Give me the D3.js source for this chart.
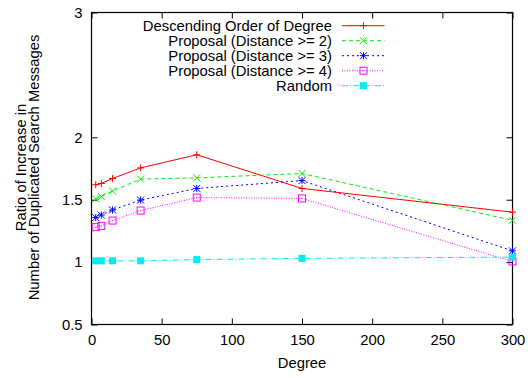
<!DOCTYPE html>
<html>
<head>
<meta charset="utf-8">
<script src="https://cdn.jsdelivr.net/npm/d3@7"></script>
<style>
  body { margin: 0; background: #fff; }
  text { font-family: "Liberation Sans", Arial, sans-serif; font-size: 14.8px; fill: #000; }
</style>
</head>
<body>
<div id="chart"></div>
<script>
/* -----------------    DATA     ------------------ */
const degrees = [3, 7, 15, 35, 75, 150, 300];
const seriesNames = [
  'Descending Order of Degree',
  'Proposal (Distance >= 2)',
  'Proposal (Distance >= 3)',
  'Proposal (Distance >= 4)',
  'Random'
];
const descendingValues = [1.62, 1.63, 1.67, 1.755, 1.86, 1.59, 1.40];
const dist2Values = [1.505, 1.525, 1.57, 1.665, 1.675, 1.71, 1.335];
const dist3Values = [1.357, 1.377, 1.418, 1.497, 1.59, 1.653, 1.09];
const dist4Values = [1.28, 1.29, 1.333, 1.413, 1.517, 1.51, 1.005];
const randomValues = [1.01, 1.01, 1.01, 1.01, 1.02, 1.03, 1.04];
const xTicks = [0, 50, 100, 150, 200, 250, 300];
const yTicks = [0.5, 1, 1.5, 2, 3];

/* -----------------    SETTINGS     ------------------ */
const graphSettings = {
  svgWidth: 528,
  svgHeight: 378,
  left: 91.5,
  right: 512.5,
  top: 12.5,
  bottom: 324.5,
  tickLen: 6
};

const styles = [
  { color: '#ff0000', dash: null, marker: 'plus' },
  { color: '#00ee00', dash: '4,3', marker: 'cross' },
  { color: '#0000ff', dash: '2,3', marker: 'star' },
  { color: '#ff00ff', dash: '1,1.5', marker: 'box' },
  { color: '#00eeee', dash: '6,2,1,2', marker: 'fbox' }
];

/* -----------------    LOGIC     ------------------ */
const gs = graphSettings;
const svg = d3.select('#chart').append('svg')
  .attr('width', gs.svgWidth)
  .attr('height', gs.svgHeight);

const xScale = d3.scaleLinear().domain([0, 300]).range([gs.left, gs.right]);
const yScale = d3.scaleLinear().domain([0.5, 3]).range([gs.bottom, gs.top]);

// Axes (ticks inward, mirrored)
svg.append('g')
  .attr('transform', `translate(0, ${gs.bottom})`)
  .call(d3.axisBottom(xScale).tickValues(xTicks).tickSizeInner(-gs.tickLen).tickSizeOuter(0).tickPadding(10))
  .call(g => g.select('.domain').remove());
svg.append('g')
  .attr('transform', `translate(0, ${gs.top})`)
  .call(d3.axisTop(xScale).tickValues(xTicks).tickSizeInner(-gs.tickLen).tickSizeOuter(0).tickFormat(''))
  .call(g => g.select('.domain').remove());
svg.append('g')
  .attr('transform', `translate(${gs.left}, 0)`)
  .call(d3.axisLeft(yScale).tickValues(yTicks).tickSizeInner(-gs.tickLen).tickSizeOuter(0).tickPadding(9).tickFormat(d3.format('')))
  .call(g => g.select('.domain').remove());
svg.append('g')
  .attr('transform', `translate(${gs.right}, 0)`)
  .call(d3.axisRight(yScale).tickValues(yTicks).tickSizeInner(-gs.tickLen).tickSizeOuter(0).tickFormat(''))
  .call(g => g.select('.domain').remove());

svg.selectAll('.tick line').attr('stroke', '#000');
svg.selectAll('.tick text').style('font-size', '14.8px').attr('fill', '#000');

// Frame
svg.append('rect')
  .attr('x', gs.left).attr('y', gs.top)
  .attr('width', gs.right - gs.left).attr('height', gs.bottom - gs.top)
  .attr('fill', 'none').attr('stroke', '#000').attr('stroke-width', 1.2);

// Axis labels
svg.append('text')
  .attr('x', (gs.left + gs.right) / 2).attr('y', 368)
  .attr('text-anchor', 'middle')
  .text('Degree');
svg.append('text')
  .attr('transform', 'translate(26, 167.5) rotate(-90)')
  .attr('text-anchor', 'middle')
  .text('Ratio of Increase in');
svg.append('text')
  .attr('transform', 'translate(39, 167.5) rotate(-90)')
  .attr('text-anchor', 'middle')
  .text('Number of Duplicated Search Messages');

// Markers
function drawMarker(g, type, x, y, color) {
  const s = 3.5;
  if (type === 'plus' || type === 'star') {
    g.append('path').attr('d', `M${x - s},${y}H${x + s}M${x},${y - s}V${y + s}`)
      .attr('stroke', color).attr('fill', 'none');
  }
  if (type === 'cross' || type === 'star') {
    g.append('path').attr('d', `M${x - s},${y - s}L${x + s},${y + s}M${x - s},${y + s}L${x + s},${y - s}`)
      .attr('stroke', color).attr('fill', 'none');
  }
  if (type === 'box') {
    g.append('rect').attr('x', x - s).attr('y', y - s).attr('width', 2 * s).attr('height', 2 * s)
      .attr('stroke', color).attr('fill', 'none');
    g.append('rect').attr('x', x - 0.5).attr('y', y - 0.5).attr('width', 1).attr('height', 1)
      .attr('fill', color);
  }
  if (type === 'fbox') {
    g.append('rect').attr('x', x - s).attr('y', y - s).attr('width', 2 * s).attr('height', 2 * s)
      .attr('fill', color);
  }
}

const allValues = [descendingValues, dist2Values, dist3Values, dist4Values, randomValues];
const line = d3.line().x(d => xScale(d[0])).y(d => yScale(d[1]));

allValues.forEach((vals, i) => {
  const st = styles[i];
  const pts = degrees.map((d, j) => [d, vals[j]]);
  const g = svg.append('g');
  g.append('path')
    .datum(pts)
    .attr('d', line)
    .attr('fill', 'none')
    .attr('stroke', st.color)
    .attr('stroke-width', 1)
    .attr('stroke-dasharray', st.dash);
  pts.forEach(p => drawMarker(g, st.marker, xScale(p[0]), yScale(p[1]), st.color));
});

// Legend
const legendTextX = 332;
const legendY0 = 25.7;
const legendStep = 15;
seriesNames.forEach((name, i) => {
  const st = styles[i];
  const y = legendY0 + i * legendStep;
  svg.append('text')
    .attr('x', legendTextX).attr('y', y + 5.3)
    .attr('text-anchor', 'end')
    .text(name);
  svg.append('line')
    .attr('x1', 342).attr('x2', 384.5).attr('y1', y).attr('y2', y)
    .attr('stroke', st.color).attr('stroke-dasharray', st.dash);
  drawMarker(svg.append('g'), st.marker, 363.5, y, st.color);
});
</script>
</body>
</html>
